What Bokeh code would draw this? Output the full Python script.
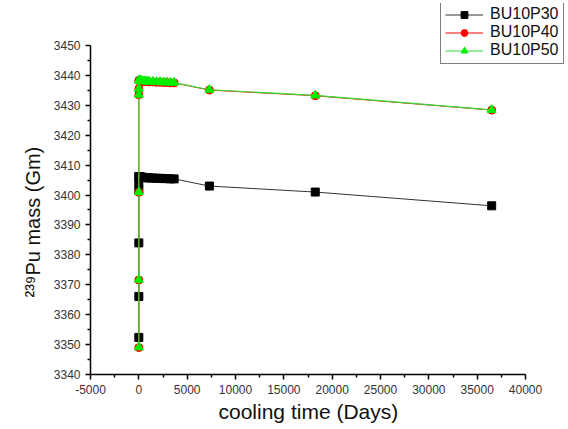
from bokeh.plotting import figure
from bokeh.models import FixedTicker, Legend, LegendItem, Range1d, Title
from bokeh.embed import file_html
from bokeh.resources import INLINE

# cooling time (days)
t_p30 = [0, 0, 0, 0, 0, 0, 30, 60, 90, 180, 270, 365, 548, 730, 913, 1095, 1460, 1825, 2190, 2555, 2920, 3285, 3650, 7300, 18250, 36500]
m_p30 = [3352.4, 3366.1, 3384.0, 3401.8, 3404.2, 3406.2, 3406.2, 3406.1, 3406.1, 3406.0, 3406.0, 3405.9, 3405.9, 3405.8, 3405.8, 3405.7, 3405.7, 3405.6, 3405.6, 3405.5, 3405.5, 3405.4, 3405.4, 3403.0, 3401.0, 3396.4]

t_p40 = [0, 0, 0, 0, 0, 0, 30, 60, 90, 180, 270, 365, 548, 730, 913, 1095, 1460, 1825, 2190, 2555, 2920, 3285, 3650, 7300, 18250, 36500]
m_p40 = [3349.0, 3371.6, 3400.9, 3433.5, 3435.5, 3438.3, 3438.3, 3438.2, 3438.2, 3438.1, 3438.1, 3438.0, 3438.0, 3437.9, 3437.9, 3437.8, 3437.8, 3437.7, 3437.7, 3437.6, 3437.6, 3437.5, 3437.5, 3435.1, 3433.2, 3428.4]

t_p50 = [0, 0, 0, 0, 0, 0, 30, 60, 90, 180, 270, 365, 548, 730, 913, 1095, 1460, 1825, 2190, 2555, 2920, 3285, 3650, 7300, 18250, 36500]
m_p50 = [3349.1, 3371.7, 3401.0, 3433.6, 3435.6, 3438.4, 3438.4, 3438.3, 3438.3, 3438.2, 3438.2, 3438.1, 3438.1, 3438.0, 3438.0, 3437.9, 3437.9, 3437.8, 3437.8, 3437.7, 3437.7, 3437.6, 3437.6, 3435.2, 3433.3, 3428.5]

series_names = ["BU10P30", "BU10P40", "BU10P50"]
x_label = "cooling time (Days)"
y_label = "²³⁹Pu mass (Gm)"
x_ticks = [-5000, 0, 5000, 10000, 15000, 20000, 25000, 30000, 35000, 40000]
x_minor = [-2500, 2500, 7500, 12500, 17500, 22500, 27500, 32500, 37500]
y_ticks = [3340, 3350, 3360, 3370, 3380, 3390, 3400, 3410, 3420, 3430, 3440, 3450]
y_minor = [3345, 3355, 3365, 3375, 3385, 3395, 3405, 3415, 3425, 3435, 3445]

# frame extends past the axes' ends so the legend (top right) is not clipped
p = figure(width=568, height=429, output_backend="svg", toolbar_location=None,
           x_range=Range1d(-5000, 44241), y_range=Range1d(3340, 3464.04),
           min_border_left=90, min_border_right=2, min_border_top=3, min_border_bottom=55)
p.outline_line_color = None
p.xgrid.visible = False
p.ygrid.visible = False
p.background_fill_color = "white"
p.border_fill_color = "white"

l1 = p.line(t_p30, m_p30, line_color="#333333", line_width=1)
s1 = p.scatter(t_p30, m_p30, marker="square", size=8, fill_color="black", line_color="black")
l2 = p.line(t_p40, m_p40, line_color="red", line_width=1)
s2 = p.scatter(t_p40, m_p40, marker="circle", size=8, fill_color="red", line_color="red")
l3 = p.line(t_p50, m_p50, line_color="#33dd33", line_width=1.2)
s3 = p.scatter(t_p50, m_p50, marker="triangle", size=9, fill_color="#00ee00", line_color="#00ee00")

for ax in (p.xaxis[0], p.yaxis[0]):
    ax.axis_line_width = 1.5
    ax.axis_line_color = "black"
    ax.major_tick_line_color = "black"
    ax.major_tick_line_width = 1.5
    ax.minor_tick_line_color = "black"
    ax.minor_tick_line_width = 1.5
    ax.major_tick_in = 0
    ax.major_tick_out = 5
    ax.minor_tick_in = 0
    ax.minor_tick_out = 3
    ax.major_label_text_font = "Liberation Sans"
    ax.major_label_text_font_size = "12px"
    ax.major_label_text_color = "#333333"

p.xaxis[0].bounds = (-5000, 40000)
p.yaxis[0].bounds = (3340, 3450)
p.xaxis[0].ticker = FixedTicker(ticks=x_ticks, minor_ticks=x_minor)
p.xaxis[0].major_label_overrides = {t: str(t) for t in x_ticks}
p.yaxis[0].ticker = FixedTicker(ticks=y_ticks, minor_ticks=y_minor)

# axis titles placed as side-panel titles so they centre on the drawn axes
xt = Title(text=x_label, align="left", offset=128, text_font="Liberation Sans",
           text_font_size="21px", text_font_style="normal", text_color="#111111", standoff=2)
p.add_layout(xt, "below")
yt = Title(text=y_label, align="left", offset=77, text_font="Liberation Sans",
           text_font_size="20px", text_font_style="normal", text_color="#111111", standoff=13)
p.add_layout(yt, "left")

legend = Legend(items=[
    LegendItem(label=series_names[0], renderers=[l1, s1]),
    LegendItem(label=series_names[1], renderers=[l2, s2]),
    LegendItem(label=series_names[2], renderers=[l3, s3]),
], location=(350, 310))
legend.border_line_color = "black"
legend.border_line_width = 1.5
legend.label_text_font = "Liberation Sans"
legend.label_text_font_size = "16px"
legend.label_text_color = "#111111"
legend.glyph_width = 38
legend.glyph_height = 17
legend.label_height = 17
legend.label_standoff = 7
legend.spacing = 0
legend.padding = 4
legend.margin = 0
legend.background_fill_color = "white"
legend.background_fill_alpha = 1
p.add_layout(legend, "center")

open("out.html", "w").write(file_html(p, INLINE))
